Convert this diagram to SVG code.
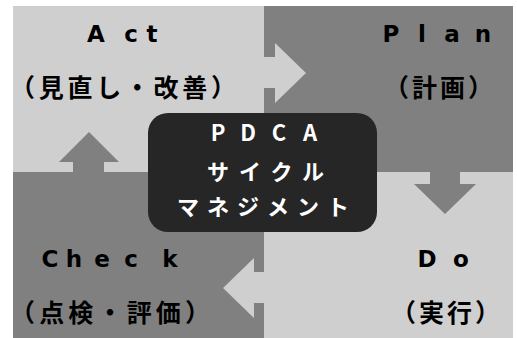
<svg xmlns="http://www.w3.org/2000/svg" width="517" height="338" viewBox="0 0 517 338">
<style>
.light{fill:#d0cfd0}
.dark{fill:#808080}
.en{font-family:"DejaVu Sans","Noto Sans CJK JP",sans-serif;font-weight:bold;fill:#000;text-anchor:middle;font-size:23px}
.jp{font-family:"Noto Sans CJK JP",sans-serif;font-weight:bold;fill:#000;font-size:25px}
.ctr{font-family:"Noto Sans CJK JP","DejaVu Sans",sans-serif;font-weight:bold;fill:#fff;font-size:22px}
.mid{text-anchor:middle}
</style>
<rect width="517" height="338" fill="#fff"/>
<g id="act">
<rect class="light" x="13" y="6" width="251" height="166"/>
<text class="en" x="96 131 152" y="42">Act</text>
<text class="jp" x="10" y="97" textLength="226">（見直し・改善）</text>
</g>
<g id="plan">
<rect class="dark" x="264" y="6" width="249" height="166"/>
<text class="en" x="391 422 452 483" y="42">Plan</text>
<text class="jp" x="384" y="97" textLength="109">（計画）</text>
</g>
<g id="do">
<rect class="light" x="264" y="172" width="249" height="166"/>
<text class="en" x="427 461" y="267">Do</text>
<text class="jp" x="391" y="322" textLength="109">（実行）</text>
</g>
<g id="check">
<rect class="dark" x="13" y="172" width="251" height="166"/>
<text class="en" x="50 74 102 131 170" y="267">Check</text>
<text class="jp" x="10" y="322" textLength="200">（点検・評価）</text>
</g>
<g id="connectors">
<polygon class="light" points="250,57 275,57 275,43 306,73 275,103 275,88 250,88"/>
<polygon class="dark" points="430,165 460,165 460,184 476,184 445,214 414,184 430,184"/>
<polygon class="light" points="280,272 254,272 254,258 223,288 254,318 254,303 280,303"/>
<polygon class="dark" points="73,180 73,162 59,162 89,132 119,162 104,162 104,180"/>
</g>
<g id="center">
<rect x="148" y="113" width="229" height="119" rx="20" fill="#262626"/>
<text class="ctr mid" x="218 248 279 310" y="141">PDCA</text>
<text class="ctr" x="207" y="180" textLength="117">サイクル</text>
<text class="ctr" x="177" y="215" textLength="172">マネジメント</text>
</g>
</svg>
